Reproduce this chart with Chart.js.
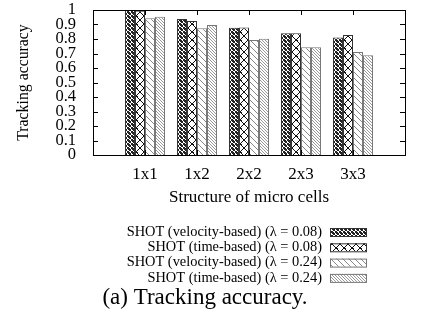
<!DOCTYPE html>
<html><head><meta charset="utf-8">
<script src="https://cdn.jsdelivr.net/npm/chart.js@4"></script>
<style>html,body{margin:0;padding:0;background:#fff}#wrap{width:438px;height:324px}</style>
</head><body><div id="wrap"><canvas id="c" width="438" height="324"></canvas></div>
<script>
const categories = ['1x1', '1x2', '2x2', '2x3', '3x3'];
const seriesLabels = [
  'SHOT (velocity-based) (\u03bb = 0.08)',
  'SHOT (time-based) (\u03bb = 0.08)',
  'SHOT (velocity-based) (\u03bb = 0.24)',
  'SHOT (time-based) (\u03bb = 0.24)'
];
const velocity008 = [1.00, 0.938, 0.878, 0.839, 0.811];
const time008     = [0.995, 0.924, 0.880, 0.839, 0.828];
const velocity024 = [0.943, 0.874, 0.793, 0.743, 0.710];
const time024     = [0.954, 0.897, 0.802, 0.743, 0.688];
const yTicks = [0, 0.1, 0.2, 0.3, 0.4, 0.5, 0.6, 0.7, 0.8, 0.9, 1];

function makePattern(kind) {
  const c = document.createElement('canvas');
  const ctx = c.getContext('2d');
  let s;
  if (kind === 0) { // dark dense crosshatch
    s = 4; c.width = s; c.height = s;
    ctx.fillStyle = '#fff'; ctx.fillRect(0,0,s,s);
    ctx.fillStyle = '#222';
    const px = [[0,0],[1,1],[2,2],[3,3],[3,0],[2,1],[1,2],[0,3],[1,0],[0,1]];
    px.forEach(p => ctx.fillRect(p[0], p[1], 1, 1));
  } else if (kind === 1) { // open crosshatch with white diamonds
    s = 8; c.width = s; c.height = s;
    ctx.fillStyle = '#fff'; ctx.fillRect(0,0,s,s);
    ctx.fillStyle = '#111';
    for (let i = 0; i < s; i++) { ctx.fillRect(i, i, 1, 1); ctx.fillRect(s-1-i, i, 1, 1); }
    ctx.fillRect(0,0,2,1); ctx.fillRect(3,3,2,2);
  } else if (kind === 2) { // sparse "\" lines
    s = 6; c.width = s; c.height = s;
    ctx.fillStyle = '#fff'; ctx.fillRect(0,0,s,s);
    ctx.fillStyle = '#888';
    for (let i = 0; i < s; i++) ctx.fillRect(i, i, 1, 1);
  } else { // dense "\" lines
    s = 3; c.width = s; c.height = s;
    ctx.fillStyle = '#fff'; ctx.fillRect(0,0,s,s);
    ctx.fillStyle = '#999';
    for (let i = 0; i < s; i++) ctx.fillRect(i, i, 1, 1);
  }
  return document.getElementById('c').getContext('2d').createPattern(c, 'repeat');
}
const patterns = [0,1,2,3].map(makePattern);
const seriesValues = [velocity008, time008, velocity024, time024];

const labels = [''].concat(categories, ['']);
const datasets = seriesValues.map((vals, i) => ({
  label: seriesLabels[i],
  data: [null].concat(vals, [null]),
  backgroundColor: patterns[i],
  borderColor: i < 2 ? '#333' : '#777',
  borderWidth: 1,
  categoryPercentage: 0.77,
  barPercentage: 1.0
}));

const serif = "'Liberation Serif', 'DejaVu Serif', serif";

const framePlugin = {
  id: 'frame',
  afterDraw(chart) {
    const {ctx, chartArea: a, scales} = chart;
    const x = scales.x, y = scales.y;
    ctx.save();
    ctx.strokeStyle = '#000'; ctx.lineWidth = 1;
    ctx.strokeRect(a.left + 0.5, a.top + 0.5, a.right - a.left, a.bottom - a.top);
    ctx.beginPath();
    yTicks.forEach(v => {
      const py = Math.round(y.getPixelForValue(v)) + 0.5;
      ctx.moveTo(a.left, py); ctx.lineTo(a.left + 5, py);
      ctx.moveTo(a.right, py); ctx.lineTo(a.right - 5, py);
    });
    categories.forEach((c, i) => {
      const px = Math.round(x.getPixelForValue(i + 1)) + 0.5;
      ctx.moveTo(px, a.top); ctx.lineTo(px, a.top + 5);
      ctx.moveTo(px, a.bottom); ctx.lineTo(px, a.bottom - 5);
    });
    ctx.stroke();
    // x axis title
    ctx.fillStyle = '#000';
    ctx.font = '17px ' + serif;
    ctx.textAlign = 'center'; ctx.textBaseline = 'middle';
    ctx.fillText('Structure of micro cells', (a.left + a.right) / 2, 198);
    // legend
    ctx.font = '14.4px ' + serif;
    ctx.textAlign = 'right';
    chart.data.datasets.forEach((ds, i) => {
      const cy = 232 + i * 15.3;
      ctx.fillStyle = '#000';
      ctx.fillText(ds.label, 322, cy);
      ctx.fillStyle = ds.backgroundColor;
      ctx.fillRect(330, cy - 4, 36, 8);
      ctx.strokeStyle = ds.borderColor;
      ctx.strokeRect(330.5, cy - 3.5, 36, 8);
    });
    // caption
    ctx.fillStyle = '#000';
    ctx.font = '23px ' + serif;
    ctx.textAlign = 'center';
    ctx.fillText('(a) Tracking accuracy.', 205, 298);
    ctx.restore();
  }
};

new Chart(document.getElementById('c'), {
  type: 'bar',
  data: { labels, datasets },
  options: {
    responsive: false,
    animation: false,
    events: [],
    layout: { padding: { left: 0, right: 33, top: 10, bottom: 0 } },
    plugins: { legend: { display: false }, tooltip: { enabled: false } },
    scales: {
      x: {
        offset: false,
        grid: { display: false },
        border: { display: false },
        ticks: { color: '#000', font: { family: serif, size: 17 }, padding: 1, maxRotation: 0, autoSkip: false },
        afterFit(s) { s.height = 169; s.paddingLeft = 0; s.paddingRight = 0; }
      },
      y: {
        min: 0, max: 1,
        grid: { display: false },
        border: { display: false },
        afterBuildTicks(s) { s.ticks = yTicks.map(v => ({ value: v })); },
        ticks: { color: '#000', font: { family: serif, size: 16.5, lineHeight: 1 }, padding: 9, autoSkip: false,
                 callback: v => String(Math.round(v * 10) / 10) },
        title: { display: true, text: 'Tracking accuracy', color: '#000', font: { family: serif, size: 15.8 }, padding: { top: 14, bottom: 0 } },
        afterFit(s) { s.width = 93; s.paddingTop = 0; s.paddingBottom = 0; }
      }
    }
  },
  plugins: [framePlugin]
});
</script>
</body></html>
